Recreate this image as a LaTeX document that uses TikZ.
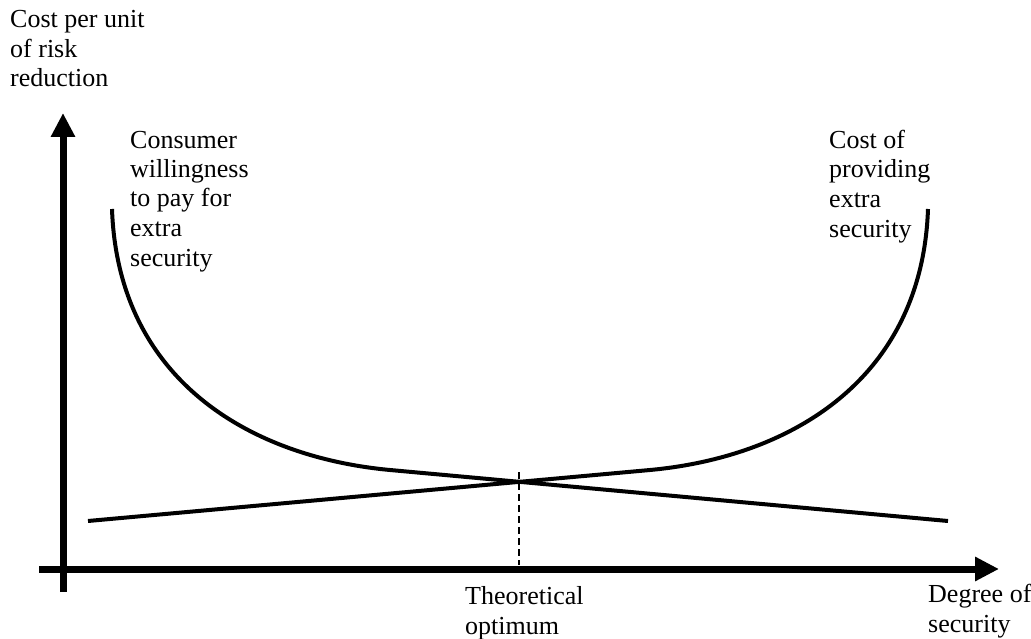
\documentclass[tikz,border=0pt]{standalone}
\usepackage{fontspec}
\setmainfont{Liberation Serif}
\usetikzlibrary{arrows.meta}

\tikzset{
  axisline/.style={line width=7pt, -{Triangle[length=24pt,width=23pt]}},
  costcurve/.style={line width=4pt},
  plaintext/.style={anchor=base west, align=left, inner sep=0pt,
    font=\fontsize{26}{29.5}\selectfont},
}

\begin{document}
\begin{tikzpicture}[x=1pt, y=-1pt]
  \useasboundingbox (0,0) rectangle (1031,639);
  \def\optx{519}\def\opty{482}
  % axes
  \draw[axisline] (63,592) -- (63,113);
  \draw[axisline] (39,569) -- (999,569);
  % end points of the two curves
  \coordinate (wtp top) at (112,209);
  \coordinate (wtp knee) at (390,470);
  \coordinate (wtp end) at (948,521);
  \coordinate (cost start) at (88,521);
  \coordinate (cost knee) at (650,470);
  \coordinate (cost top) at (928,209);
  % willingness to pay, falling
  \draw[costcurve] (wtp top) .. controls (118,380) and (250,457) .. (wtp knee) -- (wtp end);
  % cost of security, rising
  \draw[costcurve] (cost start) -- (cost knee) .. controls (790,457) and (922,380) .. (cost top);
  % optimum
  \coordinate (opt) at (\optx,472);
  \coordinate (opt foot) at (\optx,565);
  \draw[line width=2pt, dash pattern=on 7pt off 4pt] (opt) -- (opt foot);
  % labels (anchored at the baseline of their last line)
  \node[plaintext] (yname) at (10,87) {Cost per unit\\of risk\\reduction};
  \node[plaintext] (wtp label) at (130,266) {Consumer\\willingness\\to pay for\\extra\\security};
  \node[plaintext] (cost label) at (829,237) {Cost of\\providing\\extra\\security};
  \node[plaintext] (opt label) at (465,634) {Theoretical\\optimum};
  \node[plaintext] (xname) at (928,632) {Degree of\\security};
\end{tikzpicture}
\end{document}
